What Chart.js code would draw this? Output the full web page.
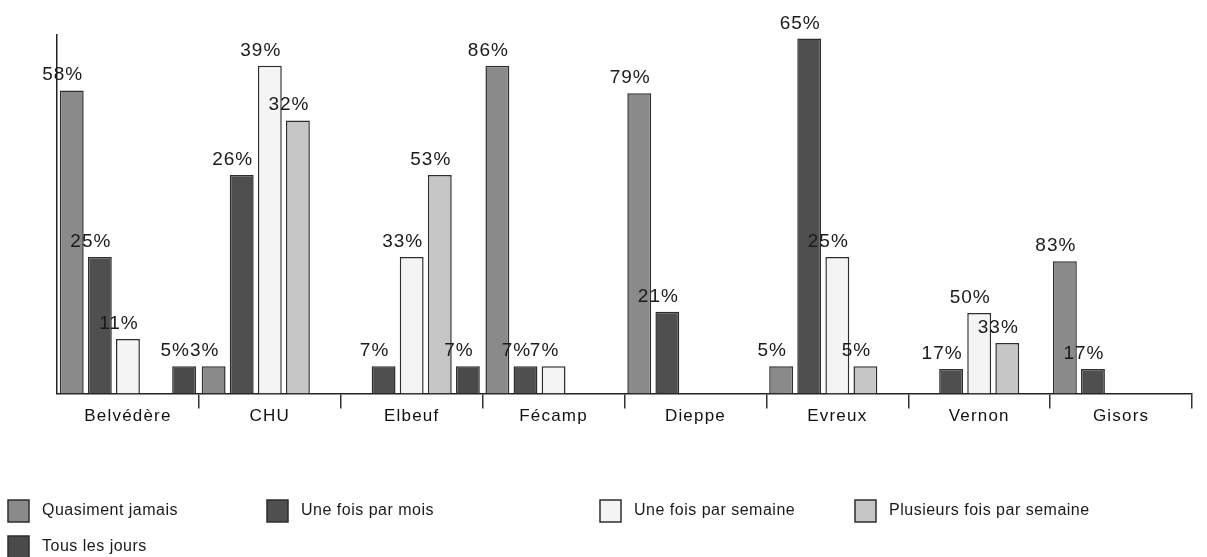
<!DOCTYPE html>
<html>
<head>
<meta charset="utf-8">
<script src="https://cdn.jsdelivr.net/npm/chart.js@4"></script>
<style>
  html, body { margin: 0; padding: 0; background: #fff; }
  .wrap { width: 1207px; height: 557px; position: relative; }
</style>
</head>
<body>
<div class="wrap"><canvas id="myChart"></canvas></div>
<script>
// sites
const categories = ['Belvédère', 'CHU', 'Elbeuf', 'Fécamp', 'Dieppe', 'Evreux', 'Vernon', 'Gisors']

// bar heights (number of answers)
const quasimentJamais = [11.1, 1, 0, 12, 11, 1, 0, 4.85]
const uneFoisParMois = [5, 8, 1, 1, 3, 13, 0.9, 0.9]
const uneFoisParSemaine = [2, 12, 5, 1, 0, 5, 2.95, 0]
const plusieursFoisParSemaine = [0, 10, 8, 0, 0, 1, 1.85, 0]
const tousLesJours = [1, 0, 1, 0, 0, 0, 0, 0]

// percentages written above the bars
const pctJamais = [58, 3, null, 86, 79, 5, null, 83]
const pctMois = [25, 26, 7, 7, 21, 65, 17, 17]
const pctSemaine = [11, 39, 33, 7, null, 25, 50, null]
const pctPlusieurs = [null, 32, 53, null, null, 5, 33, null]
const pctTous = [5, null, 7, null, null, null, null, null]

const seriesNames = ['Quasiment jamais', 'Une fois par mois', 'Une fois par semaine', 'Plusieurs fois par semaine', 'Tous les jours']
const seriesColors = ['#8a8a8a', '#4f4f4f', '#f4f4f4', '#c6c6c6', '#4a4a4a']
const allValues = [quasimentJamais, uneFoisParMois, uneFoisParSemaine, plusieursFoisParSemaine, tousLesJours]
const allPct = [pctJamais, pctMois, pctSemaine, pctPlusieurs, pctTous]

const font = 'Liberation Sans, Arial, sans-serif'

const datasets = seriesNames.map((name, i) => ({
    label: name,
    data: allValues[i],
    pct: allPct[i],
    backgroundColor: seriesColors[i],
    borderColor: '#2e2e2e',
    borderWidth: 1.5,
    borderSkipped: 'bottom',
    categoryPercentage: 0.99,
    barPercentage: 0.85
}))

// the scanned text is a bit spread out, so widen the axis labels
const spacing = {
    id: 'spacing',
    beforeDraw(chart) { chart.ctx.letterSpacing = '1.2px' },
    afterDraw(chart) { chart.ctx.letterSpacing = '0px' }
}

// percent labels, a bit left of the bar centre like in the scan
const pctLabels = {
    id: 'pctLabels',
    afterDatasetsDraw(chart) {
        const ctx = chart.ctx
        ctx.save()
        ctx.letterSpacing = '1px'
        ctx.font = '19px ' + font
        ctx.fillStyle = '#1a1a1a'
        ctx.textAlign = 'center'
        ctx.textBaseline = 'alphabetic'
        chart.data.datasets.forEach((ds, i) => {
            const meta = chart.getDatasetMeta(i)
            meta.data.forEach((bar, j) => {
                const p = ds.pct[j]
                if (p == null) return
                ctx.fillText(p + '%', bar.x - 9, bar.y - 10)
            })
        })
        ctx.restore()
    }
}

// legend laid out like the original (4 columns, 2nd row for the last one)
const bottomLegend = {
    id: 'bottomLegend',
    afterDraw(chart) {
        const ctx = chart.ctx
        const cols = [8, 267, 600, 855]
        ctx.save()
        ctx.letterSpacing = '0.5px'
        ctx.font = '16px ' + font
        ctx.textBaseline = 'middle'
        ctx.textAlign = 'left'
        chart.data.datasets.forEach((ds, i) => {
            const x = cols[i % 4]
            const y = 500 + Math.floor(i / 4) * 36
            ctx.fillStyle = ds.backgroundColor
            ctx.fillRect(x, y, 21, 22)
            ctx.strokeStyle = '#2e2e2e'
            ctx.lineWidth = 1.5
            ctx.strokeRect(x, y, 21, 22)
            ctx.fillStyle = '#1a1a1a'
            ctx.fillText(ds.label, x + 34, y + 11)
        })
        ctx.restore()
    }
}

let myChart = new Chart(document.getElementById('myChart'), {
    type: 'bar',
    data: { labels: categories, datasets: datasets },
    options: {
        responsive: true,
        maintainAspectRatio: false,
        animation: false,
        layout: { padding: { left: 49, top: 35, right: 15, bottom: 132 } },
        plugins: {
            legend: { display: false },
            tooltip: { enabled: false }
        },
        scales: {
            x: {
                grid: {
                    offset: true,
                    drawOnChartArea: false,
                    drawTicks: true,
                    tickLength: 15,
                    lineWidth: 1.5,
                    color: (c) => c.index === 0 ? 'rgba(0,0,0,0)' : '#333'
                },
                border: { display: true, color: '#222', width: 1.5 },
                ticks: { color: '#111', padding: -2, font: { family: font, size: 17 } }
            },
            y: {
                min: 0,
                max: 13.13,
                ticks: { display: false },
                grid: { display: false },
                border: { display: true, color: '#222', width: 1.5 }
            }
        }
    },
    plugins: [spacing, pctLabels, bottomLegend]
})
</script>
</body>
</html>
